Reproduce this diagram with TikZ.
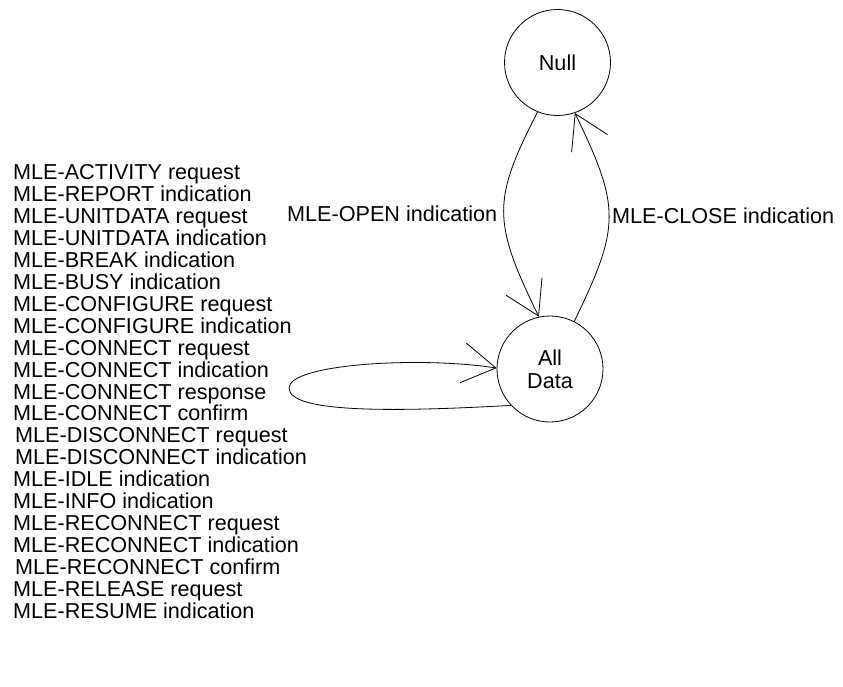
\documentclass[tikz,border=0pt]{standalone}
\usepackage{fontspec}
\setmainfont{Liberation Sans}
\usetikzlibrary{arrows.meta}
\begin{document}
\begin{tikzpicture}[x=1pt,y=-1pt,
  state/.style={circle,draw,line width=0.8pt,minimum size=106pt,inner sep=0pt,align=center,font=\fontsize{21.6}{23}\selectfont},
  lbl/.style={anchor=base west,inner sep=0pt,font=\fontsize{21.6}{22}\selectfont},
  conn/.style={line width=0.8pt,-{Straight Barb[length=33pt,width=40pt]}}]
\useasboundingbox (0,0) rectangle (843,687);
\node[state] (null) at (557.5,62.5) {Null};
\node[state] (all) at (550,369) {All\\Data};
\foreach \d/\t [count=\i from 0] in {
  0/MLE-ACTIVITY request,
  0/MLE-REPORT indication,
  0/MLE-UNITDATA request,
  0/MLE-UNITDATA indication,
  0/MLE-BREAK indication,
  0/MLE-BUSY indication,
  0/MLE-CONFIGURE request,
  0/MLE-CONFIGURE indication,
  0/MLE-CONNECT request,
  0/MLE-CONNECT indication,
  0/MLE-CONNECT response,
  0/MLE-CONNECT confirm,
  2/MLE-DISCONNECT request,
  2/MLE-DISCONNECT indication,
  0/MLE-IDLE indication,
  0/MLE-INFO indication,
  0/MLE-RECONNECT request,
  0/MLE-RECONNECT indication,
  2/MLE-RECONNECT confirm,
  0/MLE-RELEASE request,
  0/MLE-RESUME indication}
  \node[lbl] (m\i) at (13+\d,179.5+21.95*\i) {\t};
\node[lbl] (openlbl) at (287,221.5) {MLE-OPEN indication};
\node[lbl] (closelbl) at (612,223.5) {MLE-CLOSE indication};
\coordinate (loopend) at (289,388);
\draw[conn] (null.-112) .. controls +(-45,88) and +(-47,-96) .. (all.102);
\draw[conn] (all.63) .. controls +(46,-95) and +(46,95) .. (null.-71);
\draw[conn] (all.223.5) .. controls +(-110,6) and +(0,26) .. (loopend)
  .. controls +(0,-24) and +(-77,-12) .. (all.179);
\end{tikzpicture}
\end{document}
